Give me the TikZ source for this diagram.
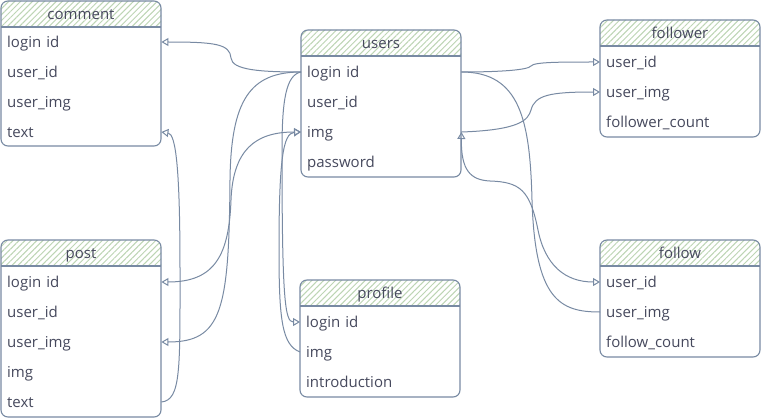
\documentclass[tikz,border=0pt]{standalone}
\usepackage{fontspec}
\setmainfont{Open Sans}
\usetikzlibrary{arrows.meta,patterns.meta}
\definecolor{edgec}{HTML}{788AA3}
\definecolor{txtc}{HTML}{46495D}
\definecolor{hatchc}{HTML}{BDD5B4}
\newcommand\rowfnt{\fontsize{15}{18}\selectfont}
% #1 x, #2 top, #3 bottom, #4 title node name, #5 title
\newcommand\erframe[5]{%
  \begin{scope}
    \clip[rounded corners=7pt] (#1,#2) rectangle (#1+160,#3);
    \fill[white] (#1,#2) rectangle (#1+160,#3);
    \fill[pattern={Lines[angle=45,distance=4.2pt,line width=1pt]},pattern color=hatchc] (#1,#2) rectangle (#1+160,#2+26);
  \end{scope}
  \draw[boxline] (#1,#2+26) -- (#1+160,#2+26);
  \draw[boxline,rounded corners=7pt] (#1,#2) rectangle (#1+160,#3);
  \node[titlecell] (#4) at (#1+80,#2+13) {#5};
}
\begin{document}
\begin{tikzpicture}[x=1pt,y=-1pt,
  boxline/.style={draw=edgec,line width=1.1pt},
  rowcell/.style={anchor=west,minimum width=160pt,minimum height=30pt,text width=148pt,
    inner xsep=6pt,inner ysep=0pt,align=left,font=\rowfnt,text=txtc,text height=15pt,text depth=4pt},
  titlecell/.style={font=\rowfnt,text=txtc,inner sep=0pt,text height=15pt,text depth=4pt},
  conn/.style={draw=edgec,line width=1pt},
  tipend/.style={conn,-{Triangle[open,length=7pt,width=8pt]}},
  tipboth/.style={conn,{Triangle[open,length=7pt,width=8pt]}-{Triangle[open,length=7pt,width=8pt]}}]
\useasboundingbox (0,0) rectangle (761,420);
\fill[white] (0,0) rectangle (761,420);

% ---------- tables ----------
\erframe{1}{1}{146}{comment}{comment}
\node[rowcell] (comment-login) at (1,42) {login id};
\node[rowcell] (comment-uid) at (1,72) {user\_id};
\node[rowcell] (comment-uimg) at (1,102) {user\_img};
\node[rowcell] (comment-text) at (1,132) {text};

\erframe{301}{30}{177}{users}{users}
\node[rowcell] (users-login) at (301,72) {login id};
\node[rowcell] (users-uid) at (301,102) {user\_id};
\node[rowcell] (users-img) at (301,132) {img};
\node[rowcell] (users-pw) at (301,162) {password};

\erframe{600}{20}{137}{follower}{follower}
\node[rowcell] (follower-uid) at (600,62) {user\_id};
\node[rowcell] (follower-uimg) at (600,92) {user\_img};
\node[rowcell] (follower-count) at (600,122) {follower\_count};

\erframe{600}{240}{357}{follow}{follow}
\node[rowcell] (follow-uid) at (600,282) {user\_id};
\node[rowcell] (follow-uimg) at (600,312) {user\_img};
\node[rowcell] (follow-count) at (600,342) {follow\_count};

\erframe{1}{240}{417}{post}{post}
\node[rowcell] (post-login) at (1,282) {login id};
\node[rowcell] (post-uid) at (1,312) {user\_id};
\node[rowcell] (post-uimg) at (1,342) {user\_img};
\node[rowcell] (post-img) at (1,372) {img};
\node[rowcell] (post-text) at (1,402) {text};

\erframe{300}{280}{397}{profile}{profile}
\node[rowcell] (profile-login) at (300,322) {login id};
\node[rowcell] (profile-img) at (300,352) {img};
\node[rowcell] (profile-intro) at (300,382) {introduction};

% ---------- connectors ----------
% users.login id -> comment.login id
\draw[tipend] (users-login.west) .. controls (260,72) and (232,70) .. (231,58)
  .. controls (230,44) and (215,42) .. (comment-login.east);
% users.login id -> post.user_img
\draw[tipend] (users-login.west) .. controls (250,72) and (231,100) .. (230,180)
  .. controls (229,310) and (222,342) .. (post-uimg.east);
% post.login id <-> users.img
\draw[tipboth] (post-login.east) .. controls (215,282) and (229,255) .. (231,200)
  .. controls (233,150) and (255,132) .. (users-img.west);
% users.login id -> profile.login id
\draw[tipend] (users-login.west) .. controls (286,75) and (282,100) .. (282,150)
  .. controls (282,300) and (285,322) .. (profile-login.west);
% profile.img -> users.img
\draw[tipend] (profile-img.west) .. controls (282,345) and (279,320) .. (279,250)
  .. controls (279,160) and (283,133) .. (users-img.west);
% post.text -> comment.text
\draw[tipend] (post-text.east) .. controls (181,400) and (180,370) .. (180,270)
  .. controls (180,170) and (176,134) .. (comment-text.east);
% users.login id -> follower.user_id
\draw[tipend] (users-login.east) .. controls (500,72) and (528,70) .. (531,66)
  .. controls (534,62) and (560,62) .. (follower-uid.west);
% users.img -> follower.user_img
\draw[tipend] (users-img.east) .. controls (520,130) and (528,120) .. (531,110)
  .. controls (535,95) and (550,92) .. (follower-uimg.west);
% users.login id -- follow.user_img
\draw[conn] (users-login.east) .. controls (520,72) and (530,120) .. (532,200)
  .. controls (535,300) and (560,312) .. (follow-uimg.west);
% follow.user_id <-> users.img (from below)
\draw[tipboth] (follow-uid.west) .. controls (565,282) and (545,265) .. (538,230)
  .. controls (530,190) and (520,182) .. (490,181)
  .. controls (470,180) and (461,170) .. (users-img.east);
\end{tikzpicture}
\end{document}
